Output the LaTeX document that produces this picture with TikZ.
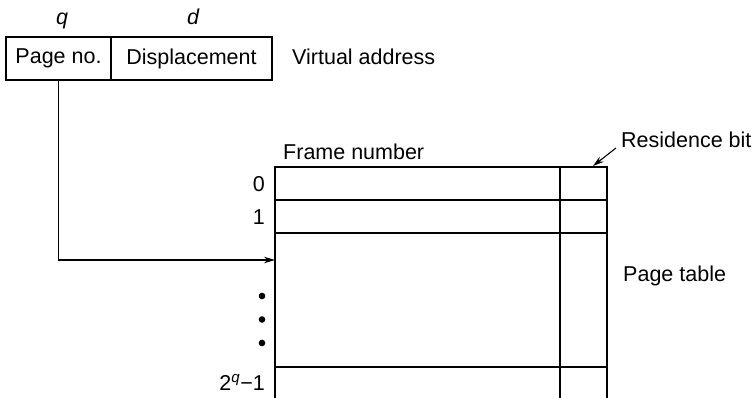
\documentclass[tikz,border=0pt]{standalone}
\usepackage{fontspec}
\setmainfont{Liberation Sans}
\usetikzlibrary{arrows.meta}
\begin{document}
\begin{tikzpicture}[x=1pt,y=-1pt,
  every node/.style={font=\fontsize{21.5}{25}\selectfont},
  txt/.style={inner sep=0pt},
  cell/.style={draw,line width=1.1pt,minimum height=43pt,inner sep=0pt},
  tline/.style={line width=1.1pt},
  conn/.style={line width=1.1pt,-{Stealth[length=11pt,width=6.5pt]}}]
\useasboundingbox[fill=white] (0,0) rectangle (752,398);
% virtual address
\node[cell,minimum width=105pt] (pageno) at (58.5,58.5) {Page no.};
\node[cell,minimum width=161pt] (disp) at (191.5,58.5) {Displacement};
\node[txt,anchor=base] (q) at (62,25) {\itshape q};
\node[txt,anchor=base] (d) at (193,25) {\itshape d};
\node[txt,anchor=base west] (va) at (292,65) {Virtual address};
% page table
\draw[tline] (275,398) -- (275,167) -- (607,167) -- (607,398);
\draw[tline] (560,167) -- (560,398);
\draw[tline] (275,200) -- (607,200);
\draw[tline] (275,233) -- (607,233);
\draw[tline] (275,367) -- (607,367);
\node[txt,anchor=base west] (fn) at (283,160) {Frame number};
\node[txt,anchor=base west] (rb) at (621,148) {Residence bit};
\node[txt,anchor=base west] (pt) at (623,281) {Page table};
\node[txt,anchor=base east] (r0) at (265,192) {0};
\node[txt,anchor=base east] (r1) at (265,225) {1};
\node[txt,anchor=base east] (rq) at (265,390) {2\textsuperscript{\itshape q}−1};
\fill (262,296) circle (3.3pt) (262,319.5) circle (3.3pt) (262,343) circle (3.3pt);
% connectors
\coordinate (entry) at (275,260);
\coordinate (rbtail) at (616,148);
\coordinate (rbtip) at (593,166);
\draw[conn] (pageno.south) |- (entry);
\draw[conn] (rbtail) -- (rbtip);
\end{tikzpicture}
\end{document}
